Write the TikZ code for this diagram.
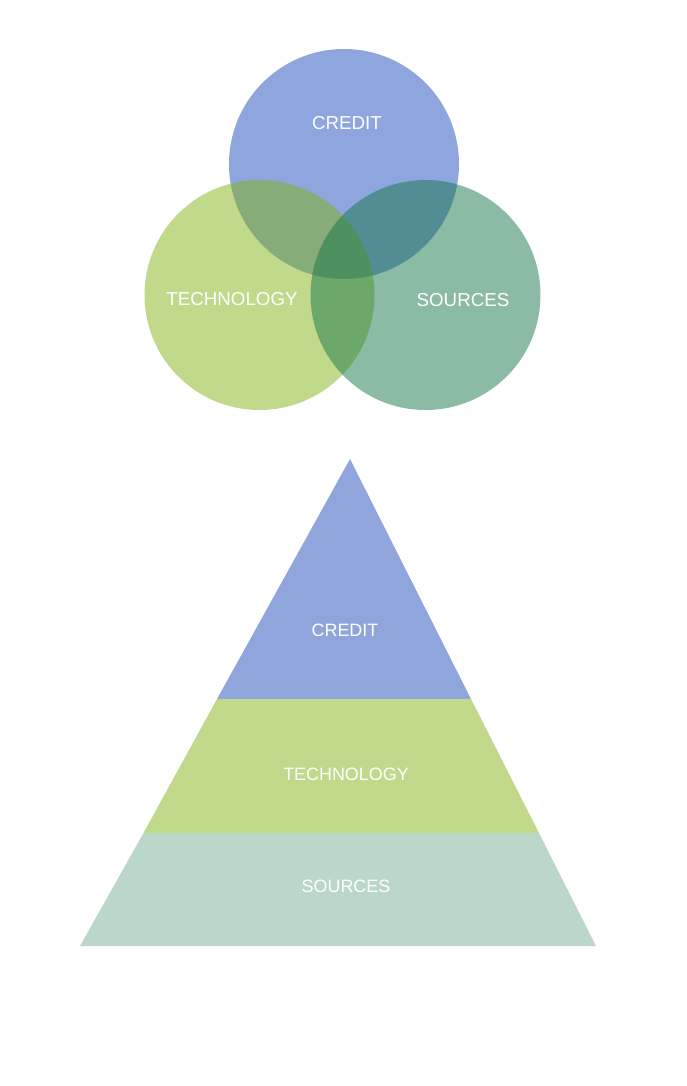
\documentclass[tikz,border=0pt]{standalone}
\usepackage{fontspec}
\setmainfont{Liberation Sans}
\usetikzlibrary{positioning}
\definecolor{creditblue}{RGB}{29,75,187}
\definecolor{technogreen}{RGB}{129,179,23}
\definecolor{sourcesgreen}{RGB}{23,119,73}
\definecolor{pcredit}{RGB}{143,165,220}
\definecolor{ptechno}{RGB}{192,217,139}
\definecolor{psources}{RGB}{186,215,202}

\begin{document}
\begin{tikzpicture}[x=0.03cm, y=-0.03cm,
    venn/.style={circle,inner sep=0pt,minimum size=6.9cm,fill opacity=0.5},
    vlabel/.style={inner sep=0pt,text=white,font=\fontsize{16}{18}\selectfont},
    plabel/.style={inner sep=0pt,text=white,font=\fontsize{15.3}{17}\selectfont},
   ]
    \useasboundingbox (0,0) rectangle (686,1086);

    % venn part
    \node (credit)  [venn, fill=creditblue]   at (344,164)   {};
    \node (techno)  [venn, fill=technogreen]  at (259.5,295) {};
    \node (sources) [venn, fill=sourcesgreen] at (425.5,295) {};

    \node (lcredit)  [vlabel] at (347,123) {CREDIT};
    \node (ltechno)  [vlabel] at (232,299) {TECHNOLOGY};
    \node (lsources) [vlabel] at (463,300) {SOURCES};

    % pyramid part
    \coordinate (apex) at (350,459);
    \coordinate (cl) at (217,699);
    \coordinate (cr) at (471,699);
    \coordinate (tl) at (143.5,833);
    \coordinate (tr) at (539,833);
    \coordinate (bl) at (80,946);
    \coordinate (br) at (596,946);

    \fill[pcredit]  (apex) -- (cr) -- (cl) -- cycle;
    \fill[ptechno]  (cl) -- (cr) -- (tr) -- (tl) -- cycle;
    \fill[psources] (tl) -- (tr) -- (br) -- (bl) -- cycle;

    \node (pcreditl)  [plabel] at (345,630) {CREDIT};
    \node (ptechnol)  [plabel] at (346,774) {TECHNOLOGY};
    \node (psourcesl) [plabel] at (346,886) {SOURCES};
  \end{tikzpicture}
\end{document}
